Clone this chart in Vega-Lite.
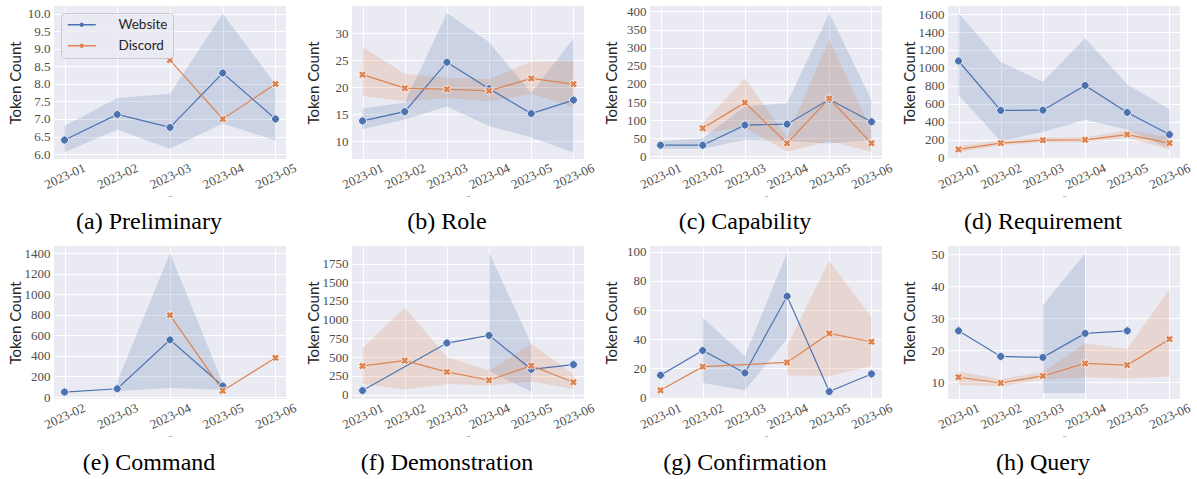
{
  "$schema": "https://vega.github.io/schema/vega-lite/v6.json",
  "padding": {"left": 8, "top": 5, "right": 5, "bottom": 0},
  "background": "#ffffff",
  "bounds": "flush",
  "columns": 4,
  "spacing": {"row": 87, "column": 66},
  "resolve": {"scale": {"fill": "independent", "stroke": "independent", "shape": "independent"}, "legend": {"fill": "independent", "stroke": "independent", "shape": "independent"}},
  "datasets": {
    "tok": [
      {"p":"a","m":"2023-01","s":"Website","v":6.4,"lo":6.05,"hi":6.8},
      {"p":"a","m":"2023-02","s":"Website","v":7.13,"lo":6.7,"hi":7.6},
      {"p":"a","m":"2023-03","s":"Website","v":6.76,"lo":6.15,"hi":7.72},
      {"p":"a","m":"2023-04","s":"Website","v":8.31,"lo":6.87,"hi":10.0},
      {"p":"a","m":"2023-05","s":"Website","v":7.0,"lo":6.39,"hi":7.99},
      {"p":"a","m":"2023-03","s":"Discord","v":8.68,"lo":null,"hi":null},
      {"p":"a","m":"2023-04","s":"Discord","v":7.0,"lo":null,"hi":null},
      {"p":"a","m":"2023-05","s":"Discord","v":8.0,"lo":null,"hi":null},

      {"p":"b","m":"2023-01","s":"Website","v":13.74,"lo":12.2,"hi":16.1},
      {"p":"b","m":"2023-02","s":"Website","v":15.46,"lo":14.0,"hi":17.1},
      {"p":"b","m":"2023-03","s":"Website","v":24.6,"lo":16.4,"hi":33.7},
      {"p":"b","m":"2023-04","s":"Website","v":19.7,"lo":12.8,"hi":28.3},
      {"p":"b","m":"2023-05","s":"Website","v":15.1,"lo":10.7,"hi":18.9},
      {"p":"b","m":"2023-06","s":"Website","v":17.6,"lo":7.9,"hi":29.0},
      {"p":"b","m":"2023-01","s":"Discord","v":22.3,"lo":18.35,"hi":27.4},
      {"p":"b","m":"2023-02","s":"Discord","v":19.8,"lo":17.4,"hi":22.45},
      {"p":"b","m":"2023-03","s":"Discord","v":19.6,"lo":18.0,"hi":21.7},
      {"p":"b","m":"2023-04","s":"Discord","v":19.3,"lo":17.4,"hi":21.5},
      {"p":"b","m":"2023-05","s":"Discord","v":21.6,"lo":18.8,"hi":24.7},
      {"p":"b","m":"2023-06","s":"Discord","v":20.55,"lo":16.3,"hi":24.85},

      {"p":"c","m":"2023-01","s":"Website","v":31,"lo":21,"hi":42},
      {"p":"c","m":"2023-02","s":"Website","v":31,"lo":21,"hi":50},
      {"p":"c","m":"2023-03","s":"Website","v":86.5,"lo":46,"hi":138},
      {"p":"c","m":"2023-04","s":"Website","v":89,"lo":43,"hi":147},
      {"p":"c","m":"2023-05","s":"Website","v":157.6,"lo":35.5,"hi":395},
      {"p":"c","m":"2023-06","s":"Website","v":95.6,"lo":46,"hi":156},
      {"p":"c","m":"2023-02","s":"Discord","v":78,"lo":65.6,"hi":92},
      {"p":"c","m":"2023-03","s":"Discord","v":148.5,"lo":80,"hi":215},
      {"p":"c","m":"2023-04","s":"Discord","v":36.4,"lo":12.8,"hi":53},
      {"p":"c","m":"2023-05","s":"Discord","v":160,"lo":42,"hi":322.5},
      {"p":"c","m":"2023-06","s":"Discord","v":36.4,"lo":12.8,"hi":71},

      {"p":"d","m":"2023-01","s":"Website","v":1077,"lo":699,"hi":1610},
      {"p":"d","m":"2023-02","s":"Website","v":526,"lo":184,"hi":1066},
      {"p":"d","m":"2023-03","s":"Website","v":529,"lo":287,"hi":846},
      {"p":"d","m":"2023-04","s":"Website","v":805,"lo":423,"hi":1331},
      {"p":"d","m":"2023-05","s":"Website","v":504,"lo":312,"hi":816},
      {"p":"d","m":"2023-06","s":"Website","v":257,"lo":99,"hi":540},
      {"p":"d","m":"2023-01","s":"Discord","v":92,"lo":62,"hi":129},
      {"p":"d","m":"2023-02","s":"Discord","v":162,"lo":136,"hi":191},
      {"p":"d","m":"2023-03","s":"Discord","v":195,"lo":173,"hi":221},
      {"p":"d","m":"2023-04","s":"Discord","v":199,"lo":173,"hi":228},
      {"p":"d","m":"2023-05","s":"Discord","v":257,"lo":221,"hi":305},
      {"p":"d","m":"2023-06","s":"Discord","v":162,"lo":92,"hi":228},

      {"p":"e","m":"2023-02","s":"Website","v":48.6,"lo":null,"hi":null},
      {"p":"e","m":"2023-03","s":"Website","v":81,"lo":60,"hi":150},
      {"p":"e","m":"2023-04","s":"Website","v":557,"lo":87.5,"hi":1400},
      {"p":"e","m":"2023-05","s":"Website","v":107,"lo":71,"hi":136},
      {"p":"e","m":"2023-04","s":"Discord","v":797,"lo":null,"hi":null},
      {"p":"e","m":"2023-05","s":"Discord","v":61.6,"lo":null,"hi":null},
      {"p":"e","m":"2023-06","s":"Discord","v":382,"lo":null,"hi":null},

      {"p":"f","m":"2023-01","s":"Website","v":53,"lo":null,"hi":null},
      {"p":"f","m":"2023-03","s":"Website","v":688,"lo":null,"hi":null},
      {"p":"f","m":"2023-04","s":"Website","v":790,"lo":316,"hi":1896},
      {"p":"f","m":"2023-05","s":"Website","v":337,"lo":36,"hi":675},
      {"p":"f","m":"2023-06","s":"Website","v":400,"lo":null,"hi":null},
      {"p":"f","m":"2023-01","s":"Discord","v":382,"lo":142,"hi":617},
      {"p":"f","m":"2023-02","s":"Discord","v":453,"lo":67,"hi":1163},
      {"p":"f","m":"2023-03","s":"Discord","v":302,"lo":142,"hi":497},
      {"p":"f","m":"2023-04","s":"Discord","v":191,"lo":120,"hi":320},
      {"p":"f","m":"2023-05","s":"Discord","v":386,"lo":173,"hi":675},
      {"p":"f","m":"2023-06","s":"Discord","v":164,"lo":75,"hi":275},

      {"p":"g","m":"2023-01","s":"Website","v":15.3,"lo":null,"hi":null},
      {"p":"g","m":"2023-02","s":"Website","v":32.3,"lo":10.0,"hi":54.7},
      {"p":"g","m":"2023-03","s":"Website","v":16.9,"lo":5.0,"hi":28.5},
      {"p":"g","m":"2023-04","s":"Website","v":69.5,"lo":40.3,"hi":99.5},
      {"p":"g","m":"2023-05","s":"Website","v":4.1,"lo":null,"hi":null},
      {"p":"g","m":"2023-06","s":"Website","v":16.2,"lo":null,"hi":null},
      {"p":"g","m":"2023-01","s":"Discord","v":5.0,"lo":null,"hi":null},
      {"p":"g","m":"2023-02","s":"Discord","v":21.2,"lo":null,"hi":null},
      {"p":"g","m":"2023-04","s":"Discord","v":24.1,"lo":15.3,"hi":35.3},
      {"p":"g","m":"2023-05","s":"Discord","v":44.0,"lo":14.6,"hi":93.9},
      {"p":"g","m":"2023-06","s":"Discord","v":38.3,"lo":21.6,"hi":55.1},

      {"p":"h","m":"2023-01","s":"Website","v":26.1,"lo":null,"hi":null},
      {"p":"h","m":"2023-02","s":"Website","v":18.1,"lo":null,"hi":null},
      {"p":"h","m":"2023-03","s":"Website","v":17.8,"lo":6.7,"hi":34.1},
      {"p":"h","m":"2023-04","s":"Website","v":25.3,"lo":6.7,"hi":50.3},
      {"p":"h","m":"2023-05","s":"Website","v":26.1,"lo":null,"hi":null},
      {"p":"h","m":"2023-01","s":"Discord","v":11.6,"lo":9.2,"hi":13.5},
      {"p":"h","m":"2023-02","s":"Discord","v":9.8,"lo":8.75,"hi":11.0},
      {"p":"h","m":"2023-03","s":"Discord","v":12.0,"lo":10.9,"hi":13.3},
      {"p":"h","m":"2023-04","s":"Discord","v":15.9,"lo":11.6,"hi":22.2},
      {"p":"h","m":"2023-05","s":"Discord","v":15.4,"lo":11.2,"hi":20.4},
      {"p":"h","m":"2023-06","s":"Discord","v":23.5,"lo":11.8,"hi":39.1}
    ]
  },
  "concat": [
    {
      "width": 232, "height": 153,
      "data": {"name": "tok"},
      "transform": [{"filter": "datum.p == 'a'"}],
      "title": {"text": "(a) Preliminary"},
      "encoding": {"x": {"field": "m", "type": "ordinal", "title": "–", "scale": {"type": "point", "padding": 0.2, "domain": ["2023-01","2023-02","2023-03","2023-04","2023-05"]}}},
      "layer": [
        {"mark": {"type": "area", "opacity": 0.2}, "encoding": {"y": {"field": "lo", "type": "quantitative", "title": "Token Count", "scale": {"domain": [5.86, 10.22], "nice": false, "zero": false}, "axis": {"values": [6,6.5,7,7.5,8,8.5,9,9.5,10], "format": ".1f"}}, "y2": {"field": "hi"}, "fill": {"field": "s", "type": "nominal", "scale": {"domain": ["Discord","Website"], "range": ["#DD8452","#4C72B0"]}, "legend": null}}},
        {"mark": {"type": "line", "strokeWidth": 1.2}, "encoding": {"y": {"field": "v", "type": "quantitative", "title": "Token Count", "axis": {"values": [6,6.5,7,7.5,8,8.5,9,9.5,10], "format": ".1f"}}, "stroke": {"field": "s", "type": "nominal", "scale": {"domain": ["Website","Discord"], "range": ["#4C72B0","#DD8452"]}, "legend": {"title": null, "orient": "top-left", "offset": 7}}}},
        {"mark": {"type": "point", "filled": true, "opacity": 1, "size": 64, "stroke": "#ffffff", "strokeWidth": 0.8, "angle": 45}, "encoding": {"y": {"field": "v", "type": "quantitative", "title": "Token Count", "axis": {"values": [6,6.5,7,7.5,8,8.5,9,9.5,10], "format": ".1f"}}, "fill": {"field": "s", "type": "nominal", "scale": {"domain": ["Discord","Website"], "range": ["#DD8452","#4C72B0"]}, "legend": null}, "shape": {"field": "s", "type": "nominal", "scale": {"domain": ["Discord","Website"], "range": ["cross","circle"]}, "legend": null}}}
      ]
    },
    {
      "width": 232, "height": 153,
      "data": {"name": "tok"},
      "transform": [{"filter": "datum.p == 'b'"}],
      "title": {"text": "(b) Role"},
      "encoding": {"x": {"field": "m", "type": "ordinal", "title": "–", "scale": {"type": "point", "padding": 0.25, "domain": ["2023-01","2023-02","2023-03","2023-04","2023-05","2023-06"]}}},
      "layer": [
        {"mark": {"type": "area", "opacity": 0.2}, "encoding": {"y": {"field": "lo", "type": "quantitative", "title": "Token Count", "scale": {"domain": [6.7, 35.0], "nice": false, "zero": false}, "axis": {"values": [10,15,20,25,30], "format": "d"}}, "y2": {"field": "hi"}, "fill": {"field": "s", "type": "nominal", "scale": {"domain": ["Discord","Website"], "range": ["#DD8452","#4C72B0"]}, "legend": null}}},
        {"mark": {"type": "line", "strokeWidth": 1.2}, "encoding": {"y": {"field": "v", "type": "quantitative", "title": "Token Count", "axis": {"values": [10,15,20,25,30], "format": "d"}}, "stroke": {"field": "s", "type": "nominal", "scale": {"domain": ["Website","Discord"], "range": ["#4C72B0","#DD8452"]}, "legend": null}}},
        {"mark": {"type": "point", "filled": true, "opacity": 1, "size": 64, "stroke": "#ffffff", "strokeWidth": 0.8, "angle": 45}, "encoding": {"y": {"field": "v", "type": "quantitative", "title": "Token Count", "axis": {"values": [10,15,20,25,30], "format": "d"}}, "fill": {"field": "s", "type": "nominal", "scale": {"domain": ["Discord","Website"], "range": ["#DD8452","#4C72B0"]}, "legend": null}, "shape": {"field": "s", "type": "nominal", "scale": {"domain": ["Discord","Website"], "range": ["cross","circle"]}, "legend": null}}}
      ]
    },
    {
      "width": 232, "height": 153,
      "data": {"name": "tok"},
      "transform": [{"filter": "datum.p == 'c'"}],
      "title": {"text": "(c) Capability"},
      "encoding": {"x": {"field": "m", "type": "ordinal", "title": "–", "scale": {"type": "point", "padding": 0.25, "domain": ["2023-01","2023-02","2023-03","2023-04","2023-05","2023-06"]}}},
      "layer": [
        {"mark": {"type": "area", "opacity": 0.2}, "encoding": {"y": {"field": "lo", "type": "quantitative", "title": "Token Count", "scale": {"domain": [-7, 415], "nice": false, "zero": false}, "axis": {"values": [0,50,100,150,200,250,300,350,400], "format": "d"}}, "y2": {"field": "hi"}, "fill": {"field": "s", "type": "nominal", "scale": {"domain": ["Discord","Website"], "range": ["#DD8452","#4C72B0"]}, "legend": null}}},
        {"mark": {"type": "line", "strokeWidth": 1.2}, "encoding": {"y": {"field": "v", "type": "quantitative", "title": "Token Count", "axis": {"values": [0,50,100,150,200,250,300,350,400], "format": "d"}}, "stroke": {"field": "s", "type": "nominal", "scale": {"domain": ["Website","Discord"], "range": ["#4C72B0","#DD8452"]}, "legend": null}}},
        {"mark": {"type": "point", "filled": true, "opacity": 1, "size": 64, "stroke": "#ffffff", "strokeWidth": 0.8, "angle": 45}, "encoding": {"y": {"field": "v", "type": "quantitative", "title": "Token Count", "axis": {"values": [0,50,100,150,200,250,300,350,400], "format": "d"}}, "fill": {"field": "s", "type": "nominal", "scale": {"domain": ["Discord","Website"], "range": ["#DD8452","#4C72B0"]}, "legend": null}, "shape": {"field": "s", "type": "nominal", "scale": {"domain": ["Discord","Website"], "range": ["cross","circle"]}, "legend": null}}}
      ]
    },
    {
      "width": 232, "height": 153,
      "data": {"name": "tok"},
      "transform": [{"filter": "datum.p == 'd'"}],
      "title": {"text": "(d) Requirement"},
      "encoding": {"x": {"field": "m", "type": "ordinal", "title": "–", "scale": {"type": "point", "padding": 0.25, "domain": ["2023-01","2023-02","2023-03","2023-04","2023-05","2023-06"]}}},
      "layer": [
        {"mark": {"type": "area", "opacity": 0.2}, "encoding": {"y": {"field": "lo", "type": "quantitative", "title": "Token Count", "scale": {"domain": [-15, 1690], "nice": false, "zero": false}, "axis": {"values": [0,200,400,600,800,1000,1200,1400,1600], "format": "d"}}, "y2": {"field": "hi"}, "fill": {"field": "s", "type": "nominal", "scale": {"domain": ["Discord","Website"], "range": ["#DD8452","#4C72B0"]}, "legend": null}}},
        {"mark": {"type": "line", "strokeWidth": 1.2}, "encoding": {"y": {"field": "v", "type": "quantitative", "title": "Token Count", "axis": {"values": [0,200,400,600,800,1000,1200,1400,1600], "format": "d"}}, "stroke": {"field": "s", "type": "nominal", "scale": {"domain": ["Website","Discord"], "range": ["#4C72B0","#DD8452"]}, "legend": null}}},
        {"mark": {"type": "point", "filled": true, "opacity": 1, "size": 64, "stroke": "#ffffff", "strokeWidth": 0.8, "angle": 45}, "encoding": {"y": {"field": "v", "type": "quantitative", "title": "Token Count", "axis": {"values": [0,200,400,600,800,1000,1200,1400,1600], "format": "d"}}, "fill": {"field": "s", "type": "nominal", "scale": {"domain": ["Discord","Website"], "range": ["#DD8452","#4C72B0"]}, "legend": null}, "shape": {"field": "s", "type": "nominal", "scale": {"domain": ["Discord","Website"], "range": ["cross","circle"]}, "legend": null}}}
      ]
    },
    {
      "width": 232, "height": 153,
      "data": {"name": "tok"},
      "transform": [{"filter": "datum.p == 'e'"}],
      "title": {"text": "(e) Command"},
      "encoding": {"x": {"field": "m", "type": "ordinal", "title": "–", "scale": {"type": "point", "padding": 0.2, "domain": ["2023-02","2023-03","2023-04","2023-05","2023-06"]}}},
      "layer": [
        {"mark": {"type": "area", "opacity": 0.2}, "encoding": {"y": {"field": "lo", "type": "quantitative", "title": "Token Count", "scale": {"domain": [-19, 1470], "nice": false, "zero": false}, "axis": {"values": [0,200,400,600,800,1000,1200,1400], "format": "d"}}, "y2": {"field": "hi"}, "fill": {"field": "s", "type": "nominal", "scale": {"domain": ["Discord","Website"], "range": ["#DD8452","#4C72B0"]}, "legend": null}}},
        {"mark": {"type": "line", "strokeWidth": 1.2}, "encoding": {"y": {"field": "v", "type": "quantitative", "title": "Token Count", "axis": {"values": [0,200,400,600,800,1000,1200,1400], "format": "d"}}, "stroke": {"field": "s", "type": "nominal", "scale": {"domain": ["Website","Discord"], "range": ["#4C72B0","#DD8452"]}, "legend": null}}},
        {"mark": {"type": "point", "filled": true, "opacity": 1, "size": 64, "stroke": "#ffffff", "strokeWidth": 0.8, "angle": 45}, "encoding": {"y": {"field": "v", "type": "quantitative", "title": "Token Count", "axis": {"values": [0,200,400,600,800,1000,1200,1400], "format": "d"}}, "fill": {"field": "s", "type": "nominal", "scale": {"domain": ["Discord","Website"], "range": ["#DD8452","#4C72B0"]}, "legend": null}, "shape": {"field": "s", "type": "nominal", "scale": {"domain": ["Discord","Website"], "range": ["cross","circle"]}, "legend": null}}}
      ]
    },
    {
      "width": 232, "height": 153,
      "data": {"name": "tok"},
      "transform": [{"filter": "datum.p == 'f'"}],
      "title": {"text": "(f) Demonstration"},
      "encoding": {"x": {"field": "m", "type": "ordinal", "title": "–", "scale": {"type": "point", "padding": 0.25, "domain": ["2023-01","2023-02","2023-03","2023-04","2023-05","2023-06"]}}},
      "layer": [
        {"mark": {"type": "area", "opacity": 0.2}, "encoding": {"y": {"field": "lo", "type": "quantitative", "title": "Token Count", "scale": {"domain": [-60, 1985], "nice": false, "zero": false}, "axis": {"values": [0,250,500,750,1000,1250,1500,1750], "format": "d"}}, "y2": {"field": "hi"}, "fill": {"field": "s", "type": "nominal", "scale": {"domain": ["Discord","Website"], "range": ["#DD8452","#4C72B0"]}, "legend": null}}},
        {"mark": {"type": "line", "strokeWidth": 1.2}, "encoding": {"y": {"field": "v", "type": "quantitative", "title": "Token Count", "axis": {"values": [0,250,500,750,1000,1250,1500,1750], "format": "d"}}, "stroke": {"field": "s", "type": "nominal", "scale": {"domain": ["Website","Discord"], "range": ["#4C72B0","#DD8452"]}, "legend": null}}},
        {"mark": {"type": "point", "filled": true, "opacity": 1, "size": 64, "stroke": "#ffffff", "strokeWidth": 0.8, "angle": 45}, "encoding": {"y": {"field": "v", "type": "quantitative", "title": "Token Count", "axis": {"values": [0,250,500,750,1000,1250,1500,1750], "format": "d"}}, "fill": {"field": "s", "type": "nominal", "scale": {"domain": ["Discord","Website"], "range": ["#DD8452","#4C72B0"]}, "legend": null}, "shape": {"field": "s", "type": "nominal", "scale": {"domain": ["Discord","Website"], "range": ["cross","circle"]}, "legend": null}}}
      ]
    },
    {
      "width": 232, "height": 153,
      "data": {"name": "tok"},
      "transform": [{"filter": "datum.p == 'g'"}],
      "title": {"text": "(g) Confirmation"},
      "encoding": {"x": {"field": "m", "type": "ordinal", "title": "–", "scale": {"type": "point", "padding": 0.25, "domain": ["2023-01","2023-02","2023-03","2023-04","2023-05","2023-06"]}}},
      "layer": [
        {"mark": {"type": "area", "opacity": 0.2}, "encoding": {"y": {"field": "lo", "type": "quantitative", "title": "Token Count", "scale": {"domain": [-1, 104], "nice": false, "zero": false}, "axis": {"values": [0,20,40,60,80,100], "format": "d"}}, "y2": {"field": "hi"}, "fill": {"field": "s", "type": "nominal", "scale": {"domain": ["Discord","Website"], "range": ["#DD8452","#4C72B0"]}, "legend": null}}},
        {"mark": {"type": "line", "strokeWidth": 1.2}, "encoding": {"y": {"field": "v", "type": "quantitative", "title": "Token Count", "axis": {"values": [0,20,40,60,80,100], "format": "d"}}, "stroke": {"field": "s", "type": "nominal", "scale": {"domain": ["Website","Discord"], "range": ["#4C72B0","#DD8452"]}, "legend": null}}},
        {"mark": {"type": "point", "filled": true, "opacity": 1, "size": 64, "stroke": "#ffffff", "strokeWidth": 0.8, "angle": 45}, "encoding": {"y": {"field": "v", "type": "quantitative", "title": "Token Count", "axis": {"values": [0,20,40,60,80,100], "format": "d"}}, "fill": {"field": "s", "type": "nominal", "scale": {"domain": ["Discord","Website"], "range": ["#DD8452","#4C72B0"]}, "legend": null}, "shape": {"field": "s", "type": "nominal", "scale": {"domain": ["Discord","Website"], "range": ["cross","circle"]}, "legend": null}}}
      ]
    },
    {
      "width": 232, "height": 153,
      "data": {"name": "tok"},
      "transform": [{"filter": "datum.p == 'h'"}],
      "title": {"text": "(h) Query"},
      "encoding": {"x": {"field": "m", "type": "ordinal", "title": "–", "scale": {"type": "point", "padding": 0.25, "domain": ["2023-01","2023-02","2023-03","2023-04","2023-05","2023-06"]}}},
      "layer": [
        {"mark": {"type": "area", "opacity": 0.2}, "encoding": {"y": {"field": "lo", "type": "quantitative", "title": "Token Count", "scale": {"domain": [4.8, 52.6], "nice": false, "zero": false}, "axis": {"values": [10,20,30,40,50], "format": "d"}}, "y2": {"field": "hi"}, "fill": {"field": "s", "type": "nominal", "scale": {"domain": ["Discord","Website"], "range": ["#DD8452","#4C72B0"]}, "legend": null}}},
        {"mark": {"type": "line", "strokeWidth": 1.2}, "encoding": {"y": {"field": "v", "type": "quantitative", "title": "Token Count", "axis": {"values": [10,20,30,40,50], "format": "d"}}, "stroke": {"field": "s", "type": "nominal", "scale": {"domain": ["Website","Discord"], "range": ["#4C72B0","#DD8452"]}, "legend": null}}},
        {"mark": {"type": "point", "filled": true, "opacity": 1, "size": 64, "stroke": "#ffffff", "strokeWidth": 0.8, "angle": 45}, "encoding": {"y": {"field": "v", "type": "quantitative", "title": "Token Count", "axis": {"values": [10,20,30,40,50], "format": "d"}}, "fill": {"field": "s", "type": "nominal", "scale": {"domain": ["Discord","Website"], "range": ["#DD8452","#4C72B0"]}, "legend": null}, "shape": {"field": "s", "type": "nominal", "scale": {"domain": ["Discord","Website"], "range": ["cross","circle"]}, "legend": null}}}
      ]
    }
  ],
  "config": {
    "view": {"fill": "#EAEAF2", "stroke": null},
    "axis": {"domain": false, "ticks": false, "grid": true, "gridColor": "#ffffff", "gridWidth": 1, "gridOpacity": 1, "labelFont": "Liberation Serif", "labelFontSize": 13, "labelColor": "#4d4d4d", "labelOverlap": false, "titleFont": "Lato", "titleFontSize": 15, "titleFontWeight": "normal", "titleColor": "#262626"},
    "axisY": {"labelPadding": 4, "minExtent": 26, "maxExtent": 26, "titlePadding": 5},
    "axisX": {"labelAngle": -25, "labelAlign": "center", "labelBaseline": "middle", "labelPadding": 17, "titleFontSize": 8, "titleColor": "#777777", "titlePadding": 1},
    "legend": {"symbolType": "M-2.8,0H2.8M0.3,0A0.3,0.3,0,1,1,-0.3,0A0.3,0.3,0,1,1,0.3,0", "symbolSize": 100, "symbolStrokeWidth": 1.3, "symbolOffset": 9, "labelOffset": 30, "labelFont": "Lato", "labelFontSize": 13.5, "labelColor": "#262626", "padding": 5, "rowPadding": 6, "fillColor": "rgba(234,234,242,0.8)", "strokeColor": "#cccccc", "cornerRadius": 3},
    "title": {"orient": "bottom", "anchor": "middle", "frame": "group", "dx": -21, "offset": 10, "font": "Liberation Serif", "fontSize": 24, "fontWeight": "normal", "color": "#000000"}
  }
}
